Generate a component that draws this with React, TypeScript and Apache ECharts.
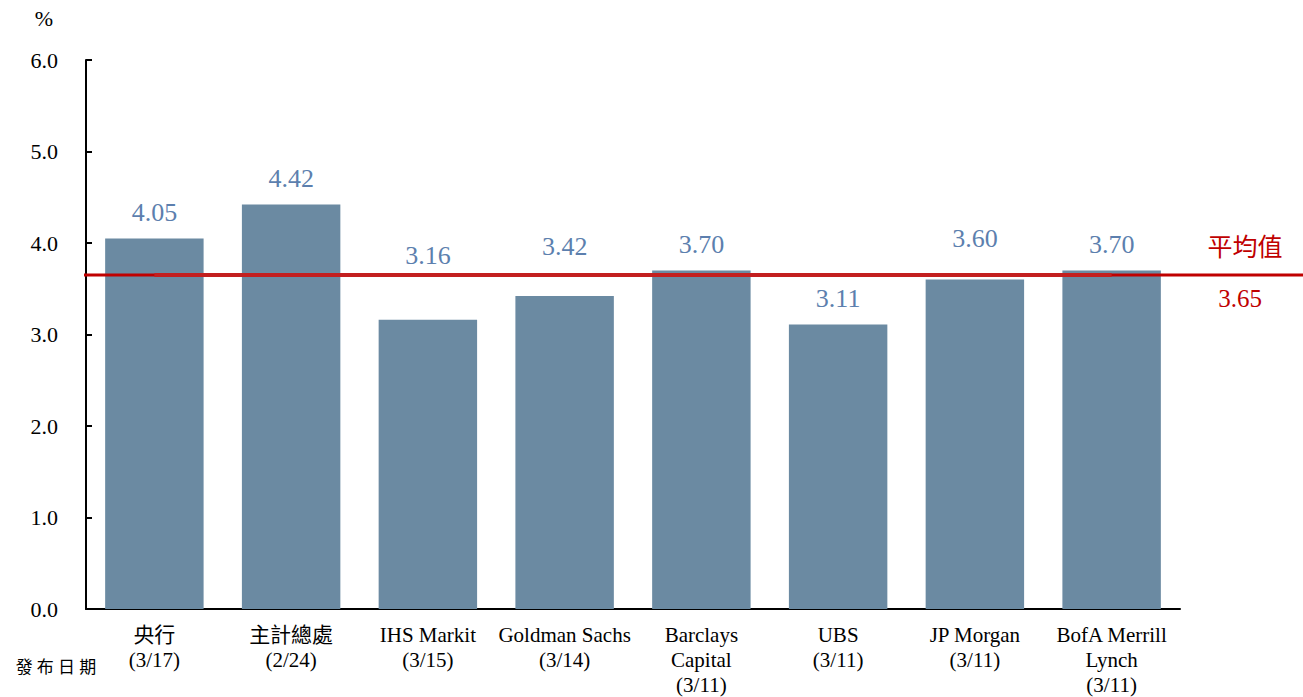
import React, { useEffect, useRef } from "react";
import * as echarts from "echarts";

const categories = ["央行\n(3/17)", "主計總處\n(2/24)", "IHS Markit\n(3/15)", "Goldman Sachs\n(3/14)", "Barclays\nCapital\n(3/11)", "UBS\n(3/11)", "JP Morgan\n(3/11)", "BofA Merrill\nLynch\n(3/11)"];
const values = [4.05, 4.42, 3.16, 3.42, 3.7, 3.11, 3.6, 3.7];
const average = 3.65;
const averageLine = [3.65, 3.65, 3.65, 3.65, 3.65, 3.65, 3.65, 3.65];
const yTicks = [0, 1, 2, 3, 4, 5, 6];

const SERIF = "Times New Roman, Liberation Serif, Noto Sans CJK TC, serif";
const BAR = "#6B8AA2";
const LABEL = "#5C7FAE";
const RED = "#C00000";

export default function App() {
  const ref = useRef<HTMLDivElement>(null);
  useEffect(() => {
    if (!ref.current) return;
    const chart = echarts.init(ref.current, null, { renderer: "svg" });
    const lift = [0, 0, 38, 24, 0, 0, 15, 0];
    chart.setOption({
      animation: false,
      textStyle: { fontFamily: SERIF },
      grid: { left: 86, right: 123, top: 60, bottom: 86, containLabel: false },
      xAxis: {
        type: "category",
        data: categories,
        axisLine: { lineStyle: { color: "#000", width: 2 } },
        axisTick: { inside: true, length: 6, alignWithLabel: false, lineStyle: { color: "#000", width: 2 } },
        axisLabel: { color: "#000", fontFamily: SERIF, fontSize: 21, lineHeight: 25, margin: 13, interval: 0 },
      },
      yAxis: {
        type: "value",
        min: 0,
        max: 6,
        interval: 1,
        splitLine: { show: false },
        axisLine: { show: true, lineStyle: { color: "#000", width: 2 } },
        axisTick: { show: true, inside: true, length: 6, lineStyle: { color: "#000", width: 2 } },
        axisLabel: {
          color: "#000",
          fontFamily: SERIF,
          fontSize: 22,
          margin: 28,
          formatter: (v: number) => (yTicks.includes(v) ? v.toFixed(1) : ""),
        },
      },
      series: [
        {
          type: "bar",
          barWidth: "72%",
          z: 2,
          data: values.map((v, i) => ({
            value: v,
            label: { offset: [0, -lift[i]] },
          })),
          itemStyle: { color: BAR },
          label: {
            show: true,
            position: "top",
            distance: 13,
            color: LABEL,
            fontFamily: SERIF,
            fontSize: 26,
            formatter: (p: any) => p.value.toFixed(2),
          },
        },
        {
          type: "line",
          data: averageLine,
          z: 5,
          symbol: "none",
          silent: true,
          lineStyle: { color: "#C31F1F", width: 4 },
        },
      ],
    });
    const y = chart.convertToPixel({ yAxisIndex: 0 }, average) as number;
    const w = chart.getWidth();
    chart.setOption({
      graphic: [
        { type: "line", z: 4, shape: { x1: 84, y1: y, x2: w, y2: y }, style: { stroke: RED, lineWidth: 3 } },
        { type: "text", z: 4, x: 1245, y: y - 28, style: { text: "平均值", fill: RED, font: `25px ${SERIF}`, align: "center", verticalAlign: "middle" } },
        { type: "text", z: 4, x: 1240, y: y + 23, style: { text: average.toFixed(2), fill: RED, font: `25px ${SERIF}`, align: "center", verticalAlign: "middle" } },
        { type: "text", x: 44, y: 18, style: { text: "%", fill: "#000", font: `22px ${SERIF}`, align: "center", verticalAlign: "middle" } },
        { type: "text", x: 56, y: 667, style: { text: "發 布 日 期", fill: "#000", font: `17px ${SERIF}`, align: "center", verticalAlign: "middle" } },
      ],
    });
    return () => chart.dispose();
  }, []);
  return <div ref={ref} style={{ width: 1303, height: 697, position: "absolute", left: 0, top: 0 }} />;
}
